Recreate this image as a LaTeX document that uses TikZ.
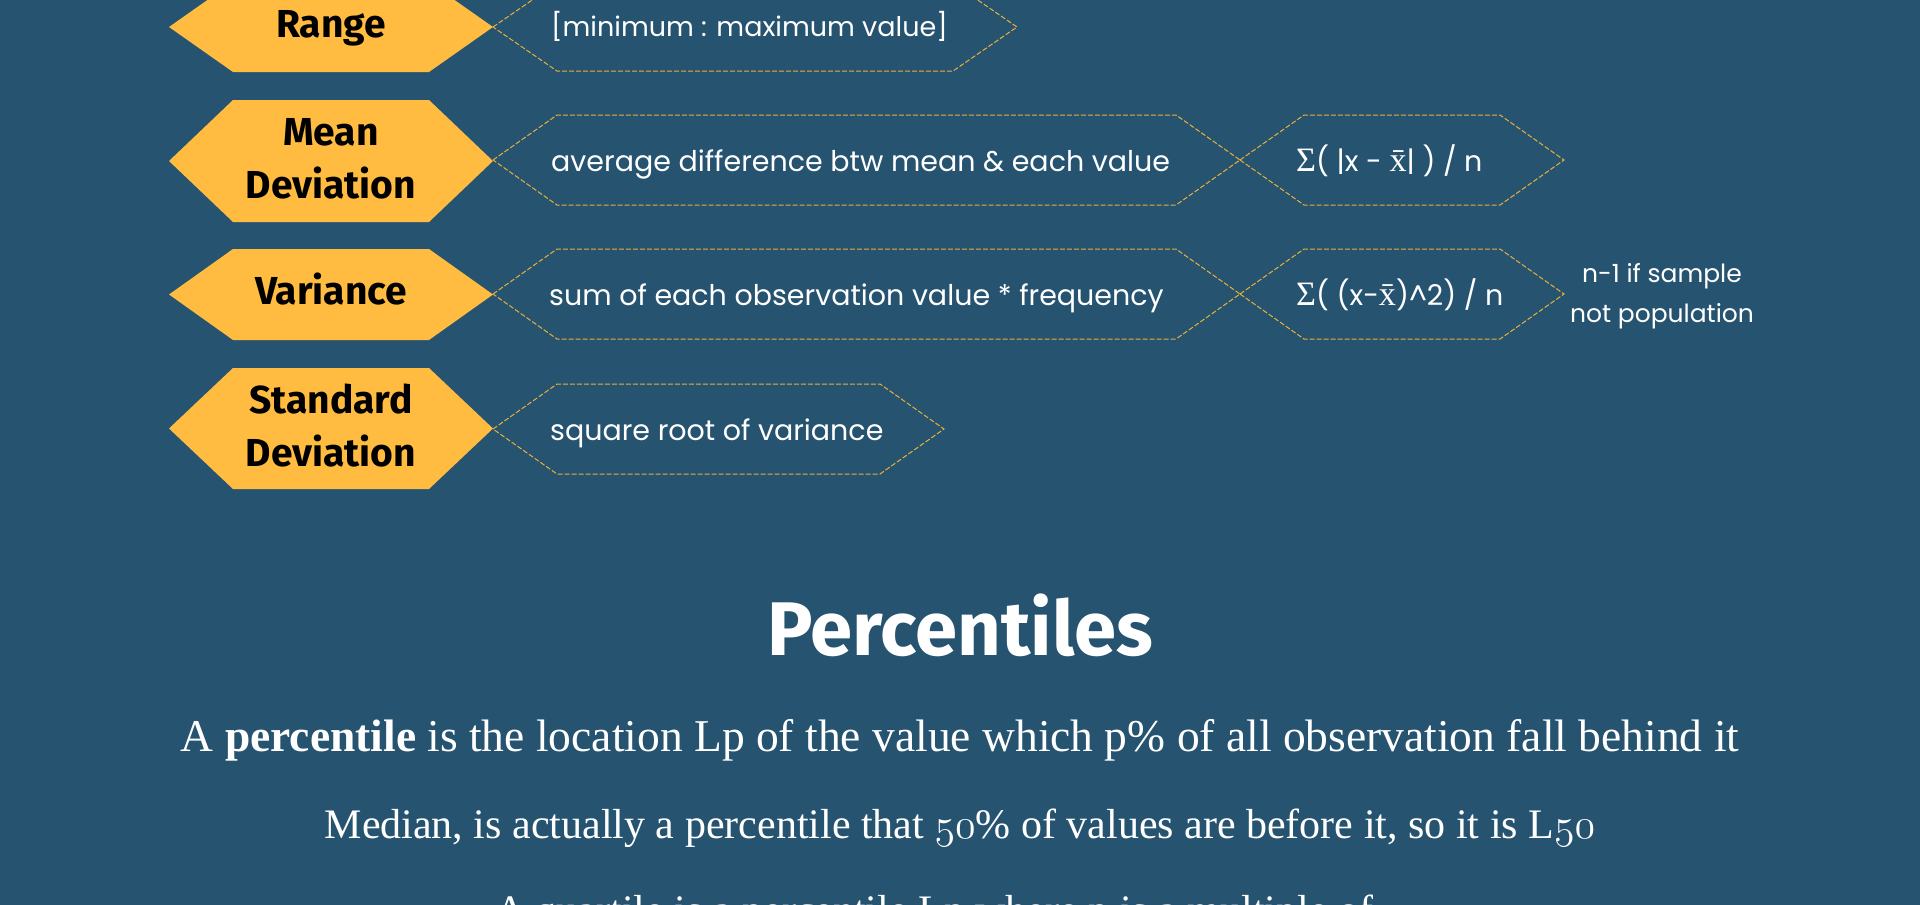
\RequirePackage{fix-cm}
\documentclass[tikz,border=0pt]{standalone}
\usepackage{fontspec}
\setmainfont{Liberation Serif}
\newfontfamily\labelfont{Fira Sans}
\newfontfamily\descfont{Poppins}
\newfontfamily\symfont{Liberation Serif}
\definecolor{bgblue}{RGB}{38,83,112}
\definecolor{hexyellow}{RGB}{255,188,64}
\definecolor{dashcol}{RGB}{232,176,60}
\newcommand\osn[1]{{\usefont{OML}{cmm}{m}{it}#1}}
\newcommand\sy[1]{{\symfont\scalebox{1.2}{#1}}}
\newcommand\yhexa[2]{% yc, half height
  \fill[yhexstyle] (169,#1) -- (233,#1-#2) -- (429,#1-#2) -- (493,#1) -- (429,#1+#2) -- (233,#1+#2) -- cycle;}
\newcommand\dhexa[4]{% xl, xr, yc, half height
  \draw[dhexstyle] (#1,#3) -- (#1+64,#3-#4) -- (#2-64,#3-#4) -- (#2,#3) -- (#2-64,#3+#4) -- (#1+64,#3+#4) -- cycle;}
\tikzset{
  yhexstyle/.style={fill=hexyellow},
  dhexstyle/.style={draw=dashcol, line width=1pt, dash pattern=on 5pt off 2pt, line join=miter},
  lbl/.style={font=\labelfont\bfseries\fontsize{39}{53}\selectfont, text=black, inner sep=0pt, align=center},
  mydesc/.style={font=\descfont\fontsize{28.5}{34}\selectfont, text=white, inner sep=0pt, anchor=base west},
  notetext/.style={font=\descfont\fontsize{25}{40}\selectfont, text=white, inner sep=0pt, align=center},
  ttl/.style={font=\labelfont\bfseries\fontsize{76}{84}\selectfont, text=white, inner sep=0pt, anchor=base},
  bodytxt/.style={font=\fontsize{42}{50}\selectfont, text=white, inner sep=0pt, anchor=base},
}
\begin{document}
\begin{tikzpicture}[x=1pt,y=-1pt]
\useasboundingbox (0,0) rectangle (1920,905);
\fill[bgblue] (0,0) rectangle (1920,905);
\clip (0,0) rectangle (1920,905);

% yellow hexagons
\yhexa{27}{45}
\yhexa{161}{61}
\yhexa{294.5}{45.5}
\yhexa{428.5}{60.5}

% dashed hexagons
\dhexa{493}{1017}{27}{44}
\dhexa{493}{1240}{160}{45}
\dhexa{1240}{1564}{160}{45}
\dhexa{493}{1240}{294}{45}
\dhexa{1240}{1564}{294}{45}
\dhexa{493}{944}{429}{45}

% labels
\node[lbl, anchor=base] (lrange) at (331,37) {Range};
\node[lbl] (lmean) at (331,158.5) {Mean\\Deviation};
\node[lbl, anchor=base] (lvar) at (331,304) {Variance};
\node[lbl] (lstd) at (331,425.5) {Standard\\Deviation};

% descriptions
\node[mydesc, font=\descfont\fontsize{27}{34}\selectfont] (drange) at (551,36) {[minimum : maximum value]};
\node[mydesc] (dmean) at (551,171) {average difference btw mean \& each value};
\node[mydesc] (fmean) at (1296,171) {\sy{Σ}( |x - \sy{x̄}| ) / n};
\node[mydesc] (dvar) at (549,305) {sum of each observation value * frequency};
\node[mydesc] (fvar) at (1296,305) {\sy{Σ}( (x-\sy{x̄})\textasciicircum 2) / n};
\node[notetext] (nvar) at (1662,296) {n-1 if sample\\not population};
\node[mydesc] (dstd) at (550,440) {square root of variance};

% percentiles section
\node[ttl] (ptitle) at (960,655) {Percentiles};
\node[bodytxt, font=\fontsize{45.5}{50}\selectfont] (p1) at (960,751) {A \textbf{percentile} is the location Lp of the value which p\% of all observation fall behind it};
\node[bodytxt] (p2) at (960,838) {Median, is actually a percentile that \osn{50}\% of values are before it, so it is L\osn{50}};
\node[bodytxt] (p3) at (960,924) {A quartile is a percentile Lp where p is a multiple of \osn{25}};
\end{tikzpicture}
\end{document}
